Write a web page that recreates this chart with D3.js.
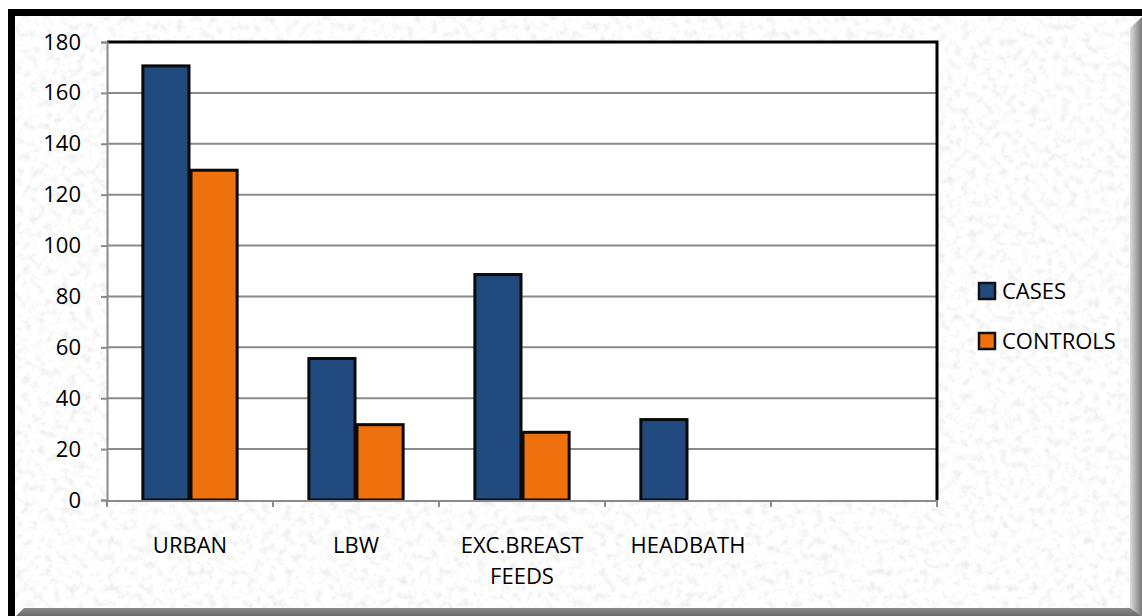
<!DOCTYPE html>
<html>
<head>
<meta charset="utf-8">
<script src="https://cdn.jsdelivr.net/npm/d3@7"></script>
<style>
  html, body { margin: 0; padding: 0; background: #ffffff; }
  svg { display: block; }
  text { font-family: "Open Sans", sans-serif; fill: #000; }
</style>
</head>
<body>
<svg id="chart" width="1142" height="616"></svg>
<script>
// ---- data ----
const categories = ["URBAN", "LBW", "EXC.BREAST FEEDS", "HEADBATH", ""];
const categoryLines = [["URBAN"], ["LBW"], ["EXC.BREAST", "FEEDS"], ["HEADBATH"], []];
const seriesNames = ["CASES", "CONTROLS"];
const casesValues = [171, 56, 89, 32, null];
const controlsValues = [130, 30, 27, null, null];
const yTicks = [0, 20, 40, 60, 80, 100, 120, 140, 160, 180];
const seriesColors = ["#214a7e", "#ef710d"];

const W = 1142, H = 616;
const plot = { left: 107, right: 937, top: 42, bottom: 500 };

const svg = d3.select("#chart");
const defs = svg.append("defs");

// paper texture
const f = defs.append("filter").attr("id", "tex")
  .attr("x", 0).attr("y", 0).attr("width", "100%").attr("height", "100%");
f.append("feTurbulence").attr("type", "fractalNoise")
  .attr("baseFrequency", "0.13").attr("numOctaves", 4).attr("seed", 7).attr("result", "n");
f.append("feColorMatrix").attr("in", "n").attr("type", "matrix")
  .attr("values", "0.36 0 0 0 0.80  0.36 0 0 0 0.80  0.36 0 0 0 0.80  0 0 0 0 1");

// bevel gradients
const gR = defs.append("linearGradient").attr("id", "bevR").attr("x1", 0).attr("x2", 1).attr("y1", 0).attr("y2", 0);
gR.append("stop").attr("offset", "0%").attr("stop-color", "#dcdcdc");
gR.append("stop").attr("offset", "100%").attr("stop-color", "#7a7a7a");
const gB = defs.append("linearGradient").attr("id", "bevB").attr("x1", 0).attr("x2", 0).attr("y1", 0).attr("y2", 1);
gB.append("stop").attr("offset", "0%").attr("stop-color", "#8a8a8a");
gB.append("stop").attr("offset", "100%").attr("stop-color", "#6a6a6a");

// background
svg.append("rect").attr("x", 15).attr("y", 15).attr("width", W - 15).attr("height", H - 15)
  .attr("filter", "url(#tex)");
// bevels
svg.append("polygon").attr("points", `${W-12},28 ${W},17 ${W},${H} ${W-12},${H-8}`).attr("fill", "url(#bevR)");
svg.append("polygon").attr("points", `16,${H} 24,${H-8} ${W-12},${H-8} ${W},${H}`).attr("fill", "url(#bevB)");
// black frame (top & left)
svg.append("rect").attr("x", 8).attr("y", 9).attr("width", W - 8).attr("height", 7).attr("fill", "#000");
svg.append("rect").attr("x", 8).attr("y", 9).attr("width", 7).attr("height", H - 9).attr("fill", "#000");

// scales
const x0 = d3.scaleBand().domain(categories).range([plot.left, plot.right]).paddingInner(0).paddingOuter(0);
const bw = x0.bandwidth();
const x1 = d3.scaleBand().domain(seriesNames).range([bw * 0.21, bw * 0.79]).padding(0);
const y = d3.scaleLinear().domain([0, 180]).range([plot.bottom, plot.top]);

// plot area
svg.append("rect").attr("x", plot.left).attr("y", plot.top)
  .attr("width", plot.right - plot.left).attr("height", plot.bottom - plot.top).attr("fill", "#fff");

// gridlines
svg.append("g").selectAll("line").data(yTicks.filter(d => d > 0 && d < 180)).join("line")
  .attr("x1", plot.left).attr("x2", plot.right)
  .attr("y1", d => y(d)).attr("y2", d => y(d))
  .attr("stroke", "#8a8a8a").attr("stroke-width", 2);

// bars
const seriesData = [casesValues, controlsValues];
const barG = svg.append("g");
seriesNames.forEach((s, si) => {
  const rows = categories.map((c, i) => ({ c, v: seriesData[si][i] })).filter(d => d.v != null);
  barG.append("g").selectAll("rect").data(rows).join("rect")
    .attr("x", d => x0(d.c) + x1(s) + 1)
    .attr("y", d => y(d.v) + 1)
    .attr("width", x1.bandwidth() - 2)
    .attr("height", d => y(0) - y(d.v) - 1)
    .attr("fill", seriesColors[si])
    .attr("stroke", "#0a0a0a").attr("stroke-width", 3);
});

// plot border (top/right black)
svg.append("path")
  .attr("d", `M${plot.left},${plot.top} H${plot.right} V${plot.bottom}`)
  .attr("fill", "none").attr("stroke", "#000").attr("stroke-width", 3);

// y axis
const yAxis = d3.axisLeft(y).tickValues(yTicks).tickSize(6).tickPadding(20);
const gy = svg.append("g").attr("transform", `translate(${plot.left},0)`).call(yAxis);
gy.select(".domain").attr("stroke", "#8a8a8a").attr("stroke-width", 2);
gy.selectAll(".tick line").attr("stroke", "#8a8a8a").attr("stroke-width", 2);
gy.selectAll(".tick text").attr("font-size", 22).attr("font-family", "Open Sans, sans-serif").attr("fill", "#000");

// x axis (ticks at band boundaries)
const xBoundaries = categories.map(c => x0(c)).concat([plot.right]);
const gx = svg.append("g");
gx.append("line").attr("x1", plot.left).attr("x2", plot.right)
  .attr("y1", plot.bottom + 1).attr("y2", plot.bottom + 1)
  .attr("stroke", "#8a8a8a").attr("stroke-width", 2);
gx.selectAll("line.tk").data(xBoundaries).join("line").attr("class", "tk")
  .attr("x1", d => d).attr("x2", d => d)
  .attr("y1", plot.bottom).attr("y2", plot.bottom + 7)
  .attr("stroke", "#8a8a8a").attr("stroke-width", 2);

// category labels
categories.forEach((c, i) => {
  const t = svg.append("text")
    .attr("x", x0(c) + bw / 2).attr("y", 553)
    .attr("text-anchor", "middle").attr("font-size", 22);
  categoryLines[i].forEach((ln, j) => {
    t.append("tspan").attr("x", x0(c) + bw / 2).attr("y", 553 + j * 31).text(ln);
  });
});

// legend
const leg = svg.append("g");
seriesNames.forEach((s, i) => {
  const yy = 283 + i * 50;
  leg.append("rect").attr("x", 979).attr("y", yy).attr("width", 16).attr("height", 16)
    .attr("fill", seriesColors[i]).attr("stroke", "#111").attr("stroke-width", 2.5);
  leg.append("text").attr("x", 1002).attr("y", yy + 16).attr("font-size", 22).text(s);
});
</script>
</body>
</html>
